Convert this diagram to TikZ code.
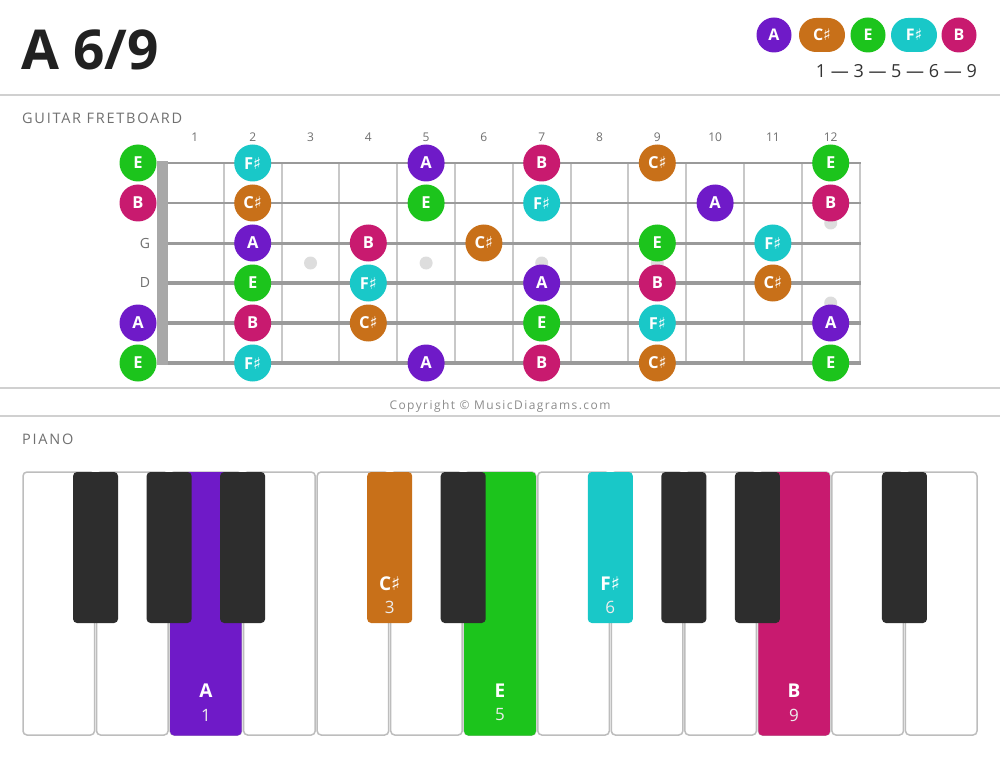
\documentclass[tikz,border=0pt]{standalone}
\usepackage{fontspec}
\setmainfont{Open Sans}
\newfontfamily\symf{DejaVu Sans}
\newcommand{\shp}{{\symf\mdseries ♯}}
\definecolor{cA}{HTML}{6F1AC8}
\definecolor{cCs}{HTML}{C87019}
\definecolor{cE}{HTML}{1CC41C}
\definecolor{cFs}{HTML}{19C8C8}
\definecolor{cB}{HTML}{C81A6F}
\definecolor{sepgray}{HTML}{D0D0D0}
\definecolor{fretgray}{HTML}{C8C8C8}
\definecolor{stringgray}{HTML}{9A9A9A}
\definecolor{nutgray}{HTML}{A8A8A8}
\definecolor{dotgray}{HTML}{DDDDDD}
\definecolor{labgray}{HTML}{707070}
\definecolor{blackkey}{HTML}{2D2D2D}
\definecolor{keyedge}{HTML}{BDBDBD}
\tikzset{
  note/.style={circle, minimum size=37pt, inner sep=0pt, text=white, font=\fontsize{16.5}{16.5}\selectfont\bfseries},
  legc/.style={circle, minimum size=35pt, inner sep=0pt, text=white, font=\fontsize{16}{16}\selectfont\bfseries},
  legp/.style={rectangle, rounded corners=17pt, minimum width=46pt, minimum height=34pt, inner sep=0pt, text=white, font=\fontsize{16}{16}\selectfont\bfseries},
  fretnum/.style={text=labgray, font=\fontsize{12}{12}\selectfont},
  seclabel/.style={anchor=west, text=labgray, font=\fontsize{14.5}{14.5}\selectfont\addfontfeatures{LetterSpace=12}},
  sepline/.style={draw=sepgray, line width=2pt},
  fretline/.style={draw=fretgray, line width=2pt},
  wkey/.style={rounded corners=4pt, draw=keyedge, line width=1.5pt, fill=white},
  bkey/.style={rounded corners=4pt, fill=blackkey},
  keyname/.style={text=white, font=\fontsize{19}{19}\selectfont\bfseries},
  keynum/.style={text=white!85!gray, font=\fontsize{17}{17}\selectfont},
}
\begin{document}
\begin{tikzpicture}[x=1pt,y=-1pt]
\useasboundingbox (0,0) rectangle (1000,759);
\fill[white] (0,0) rectangle (1000,759);
% title
\node[anchor=base west, inner sep=0pt, text=black!87, font=\fontsize{55}{55}\selectfont\bfseries] (title) at (21,70) {A 6/9};
% legend
\node[legc, fill=cA] (lA) at (774,35) {A};
\node[legp, fill=cCs] (lC) at (822,35) {C\shp};
\node[legc, fill=cE] (lE) at (868,35) {E};
\node[legp, fill=cFs] (lF) at (914,35) {F\shp};
\node[legc, fill=cB] (lB) at (959,35) {B};
\node[anchor=base east, inner sep=0pt, text=black!80, font=\fontsize{18}{18}\selectfont] (formula) at (977,78) {1 — 3 — 5 — 6 — 9};
% separators
\draw[sepline] (0,95) -- (1000,95);
\draw[sepline] (0,388) -- (1000,388);
\draw[sepline] (0,416) -- (1000,416);
\node[inner sep=0pt, text=black!45, font=\fontsize{12}{12}\selectfont\addfontfeatures{LetterSpace=12}] (copy) at (500,406) {Copyright © MusicDiagrams.com};
% section labels
\node[seclabel, inner sep=0pt] (gl) at (22,118) {GUITAR FRETBOARD};
\node[seclabel, inner sep=0pt] (pl) at (22,439) {PIANO};
% fret numbers
\foreach \f in {1,...,12}{
  \pgfmathsetmacro\xx{166+57.8*(\f-0.5)}
  \node[fretnum, inner sep=0pt] (fn\f) at (\xx,137) {\f};
}
% fret lines
\foreach \f in {1,...,12}{
  \pgfmathsetmacro\xx{166+57.8*\f}
  \draw[fretline] (\xx,163) -- (\xx,363);
}
% inlay dots
\foreach \f/\yy in {3/263,5/263,7/263,9/263,12/223,12/303}{
  \pgfmathsetmacro\xx{166+57.8*(\f-0.5)}
  \fill[dotgray] (\xx,\yy) circle (6.5pt);
}
% strings
\foreach \s/\w in {1/2.6,2/2.8,3/3,4/3.2,5/3.4,6/3.8}{
  \pgfmathsetmacro\yy{163+40*(\s-1)}
  \draw[draw=stringgray, line width=\w pt] (157,\yy) -- (861,\yy);
}
% nut
\fill[nutgray] (157,161.5) rectangle (168,364.5);
% string names
\node[fretnum, font=\fontsize{14}{14}\selectfont] (sG) at (145,243) {G};
\node[fretnum, font=\fontsize{14}{14}\selectfont] (sD) at (145,283) {D};
% notes
\foreach \s/\f/\c/\t in {
 1/0/cE/E, 1/2/cFs/F\shp, 1/5/cA/A, 1/7/cB/B, 1/9/cCs/C\shp, 1/12/cE/E,
 2/0/cB/B, 2/2/cCs/C\shp, 2/5/cE/E, 2/7/cFs/F\shp, 2/10/cA/A, 2/12/cB/B,
 3/2/cA/A, 3/4/cB/B, 3/6/cCs/C\shp, 3/9/cE/E, 3/11/cFs/F\shp,
 4/2/cE/E, 4/4/cFs/F\shp, 4/7/cA/A, 4/9/cB/B, 4/11/cCs/C\shp,
 5/0/cA/A, 5/2/cB/B, 5/4/cCs/C\shp, 5/7/cE/E, 5/9/cFs/F\shp, 5/12/cA/A,
 6/0/cE/E, 6/2/cFs/F\shp, 6/5/cA/A, 6/7/cB/B, 6/9/cCs/C\shp, 6/12/cE/E}{
  \pgfmathsetmacro\xx{\f==0 ? 138 : 166+57.8*(\f-0.5)}
  \pgfmathsetmacro\yy{163+40*(\s-1)}
  \node[note, fill=\c] (n\s-\f) at (\xx,\yy) {\t};
}
% piano white keys
\def\kw{73.54}
\foreach \i in {0,...,12}{
  \pgfmathsetmacro\xa{22+\kw*\i+1}
  \pgfmathsetmacro\xb{22+\kw*(\i+1)-1}
  \draw[wkey] (\xa,472) rectangle (\xb,735);
}
\foreach \i/\c in {2/cA,6/cE,10/cB}{
  \pgfmathsetmacro\xa{22+\kw*\i+1}
  \pgfmathsetmacro\xb{22+\kw*(\i+1)-1}
  \fill[rounded corners=4pt, fill=\c] (\xa,472) rectangle (\xb,735.5);
}
% black keys
\foreach \k in {1,2,3,6,9,10,12}{
  \pgfmathsetmacro\xc{22+\kw*\k}
  \fill[bkey] (\xc-22.5,472) rectangle (\xc+22.5,623);
}
\foreach \k/\c in {5/cCs,8/cFs}{
  \pgfmathsetmacro\xc{22+\kw*\k}
  \fill[rounded corners=4pt, fill=\c] (\xc-22.5,472) rectangle (\xc+22.5,623);
}
% key labels
\node[keyname] (kA) at (206,691) {A};
\node[keynum] (kA1) at (206,715) {1};
\node[keyname] (kE) at (500,691) {E};
\node[keynum] (kE1) at (500,715) {5};
\node[keyname] (kB) at (794,691) {B};
\node[keynum] (kB1) at (794,715) {9};
\node[keyname] (kC) at (389.7,584) {C\shp};
\node[keynum] (kC1) at (389.7,607) {3};
\node[keyname] (kF) at (610.3,584) {F\shp};
\node[keynum] (kF1) at (610.3,607) {6};
\end{tikzpicture}
\end{document}
